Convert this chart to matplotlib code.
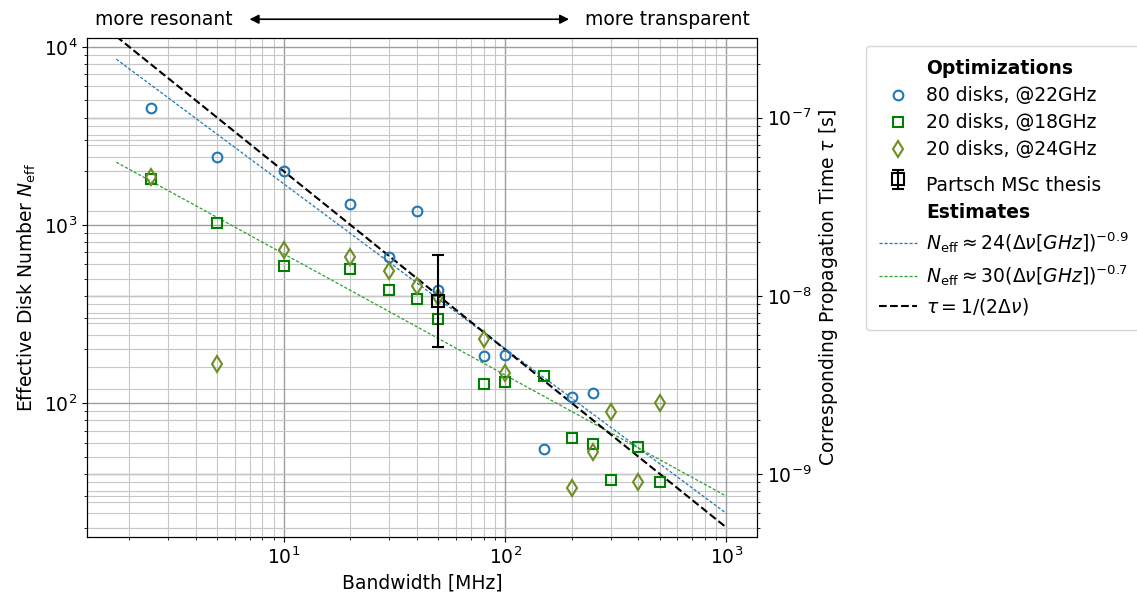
import numpy as np
import matplotlib.pyplot as plt
from matplotlib.lines import Line2D
from matplotlib.legend_handler import HandlerErrorbar

plt.rcParams['font.size'] = 13.5

# bandwidth [MHz] and effective disk number for each optimization run
bw80 = [2.5, 5, 10, 20, 30, 40, 50, 80, 100, 150, 200, 250]
n80 = [4540, 2410, 2010, 1310, 660, 1200, 430, 183, 185, 55, 108, 114]

bw18 = [2.5, 5, 10, 20, 30, 40, 50, 80, 100, 150, 200, 250, 300, 400, 500]
n18 = [1810, 1025, 590, 564, 431, 383, 296, 128, 132, 141, 63.4, 58.6, 36.9, 56.9, 35.8]

bw24 = [2.5, 5, 10, 20, 30, 40, 50, 80, 100, 200, 250, 300, 400, 500]
n24 = [1866, 166, 724, 659, 550, 454, 395, 229, 147, 33.2, 53.2, 88.7, 35.8, 100]

# Partsch MSc thesis point with error bar
bw_partsch = [50]
n_partsch = [374]
n_partsch_lo = [205]
n_partsch_hi = [678]

# fit estimates N = a * (dnu[GHz])^-b
fit80 = (24, 0.925)
fit18 = (30, 0.68)
f0 = 20e9  # conversion N <-> tau

dnu = np.logspace(np.log10(1.75), 3, 200)


class TallErrorbar(HandlerErrorbar):
    # a bit more room for the error bar symbol in the legend
    def legend_artist(self, legend, orig_handle, fontsize, handlebox):
        handlebox.height *= 1.8
        return super().legend_artist(legend, orig_handle, fontsize, handlebox)


fig = plt.figure(figsize=(11.37, 6.01), dpi=100)
ax = fig.add_axes([0.0765, 0.1065, 0.5893, 0.8303])
ax2 = ax.twinx()
ax.set_zorder(ax2.get_zorder() + 1)
ax.patch.set_visible(False)

ax.set_xscale('log')
ax.set_yscale('log')
ax2.set_yscale('log')

fine = (0, (2.5, 1.5))
l_fit80, = ax.plot(dnu, fit80[0] * (dnu / 1000) ** (-fit80[1]), ls=fine, color='tab:blue', lw=0.9)
l_fit18, = ax.plot(dnu, fit18[0] * (dnu / 1000) ** (-fit18[1]), ls=fine, color='tab:green', lw=0.9)
tau = 1 / (2 * dnu * 1e6)
l_tau, = ax.plot(dnu, tau * 2 * f0, 'k--', lw=1.5)

h80, = ax.plot(bw80, n80, 'o', mfc='none', mec='tab:blue', ms=7, mew=1.5, ls='none')
h18, = ax.plot(bw18, n18, 's', mfc='none', mec='green', ms=7, mew=1.5, ls='none')
h24, = ax.plot(bw24, n24, 'd', mfc='none', mec='olivedrab', ms=8, mew=1.5, ls='none')

yerr = [np.array(n_partsch) - np.array(n_partsch_lo), np.array(n_partsch_hi) - np.array(n_partsch)]
hp = ax.errorbar(bw_partsch, n_partsch, yerr=yerr, fmt='s', mfc='none', mec='k', ecolor='k',
                 ms=9, mew=1.5, elinewidth=1.5, capsize=4, capthick=1.5)

ax.set_xlim(1.29, 1375)
ax.set_ylim(17.7, 11200)
ax2.set_ylim(np.array(ax.get_ylim()) / (2 * f0))

for a in (ax, ax2):
    a.grid(which='major', color='0.62', lw=1.0)
    a.grid(which='minor', color='0.78', lw=0.8)

ax.set_xlabel('Bandwidth [MHz]')
ax.set_ylabel(r'Effective Disk Number $N_{\rm eff}$')
ax2.set_ylabel(r'Corresponding Propagation Time $\tau$ [s]')

# top annotation
fig.text(0.0836, 0.968, 'more resonant', ha='left', va='center')
fig.text(0.6596, 0.968, 'more transparent', ha='right', va='center')
ax.annotate('', xy=(0.217, 0.968), xytext=(0.503, 0.968), xycoords='figure fraction',
            textcoords='figure fraction', arrowprops=dict(arrowstyle='<|-|>', color='k', lw=1.2))

blank = Line2D([], [], ls='none', marker='none')
handles = [blank, h80, h18, h24, hp, blank, l_fit80, l_fit18, l_tau]
labels = ['Optimizations', '80 disks, @22GHz', '20 disks, @18GHz', '20 disks, @24GHz',
          'Partsch MSc thesis', 'Estimates',
          r'$N_{\rm eff} \approx 24(\Delta\nu[GHz])^{-0.9}$',
          r'$N_{\rm eff} \approx 30(\Delta\nu[GHz])^{-0.7}$',
          r'$\tau = 1/(2\Delta\nu)$']
leg = fig.legend(handles, labels, loc='upper left', bbox_to_anchor=(0.7617, 0.9235),
                 borderaxespad=0, borderpad=0.7, labelspacing=0.43, handletextpad=0.5,
                 fontsize=13.5, handler_map={type(hp): TallErrorbar()})
for t in leg.get_texts():
    if t.get_text() in ('Optimizations', 'Estimates'):
        t.set_fontweight('bold')

fig.savefig('out.png', dpi=100)
